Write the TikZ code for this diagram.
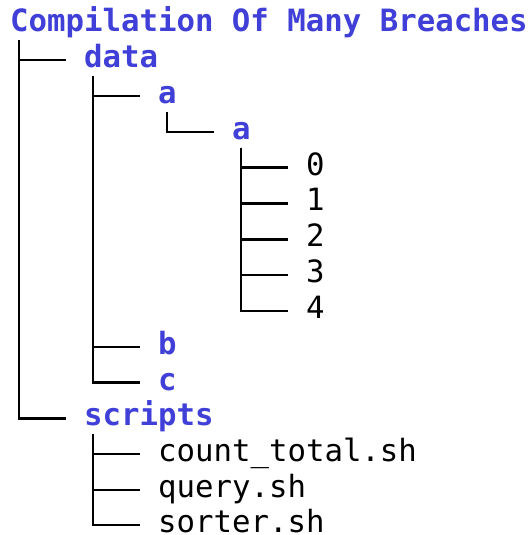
\documentclass[tikz,border=0pt]{standalone}
\usepackage{fontspec}
\setmonofont{DejaVu Sans Mono}
\usetikzlibrary{calc}
\definecolor{dirblue}{RGB}{64,64,216}
\tikzset{
  entry/.style={anchor=west, inner sep=0pt, text height=22pt, text depth=7pt},
  dir/.style={entry, text=dirblue, font=\ttfamily\bfseries\fontsize{30.7}{36}\selectfont},
  file/.style={entry, text=black, font=\ttfamily\fontsize{30.7}{36}\selectfont},
  branch/.style={draw=black, line width=2.4pt},
}
% trunk drawn from a parent entry down to a child entry
\newcommand{\treebranch}[2]{%
  \draw[branch] ($(#1.west)+(9.25,16)$) |- ([xshift=-18.5pt]#2.west);}
\begin{document}
\begin{tikzpicture}[x=1pt, y=-1pt]
\useasboundingbox (0,0) rectangle (532,535);

% columns: 10 + 18.5*c ; rows: 60 + 35.85*(r-1)
\node[dir]  (root)    at (10,  24.2)  {Compilation Of Many Breaches};
\node[dir]  (data)    at (84,  60.0)  {data};
\node[dir]  (da)      at (158, 95.9)  {a};
\node[dir]  (daa)     at (232, 131.7) {a};
\node[file] (f0)      at (306, 167.6) {0};
\node[file] (f1)      at (306, 203.4) {1};
\node[file] (f2)      at (306, 239.3) {2};
\node[file] (f3)      at (306, 275.1) {3};
\node[file] (f4)      at (306, 311.0) {4};
\node[dir]  (db)      at (158, 346.8) {b};
\node[dir]  (dc)      at (158, 382.5) {c};
\node[dir]  (scripts) at (84,  418.4) {scripts};
\node[file] (count)   at (158, 454.2) {count\_total.sh};
\node[file] (query)   at (158, 490.1) {query.sh};
\node[file] (sorter)  at (158, 525.0) {sorter.sh};

\treebranch{root}{data}
\treebranch{root}{scripts}
\treebranch{data}{da}
\treebranch{data}{db}
\treebranch{data}{dc}
\treebranch{da}{daa}
\treebranch{daa}{f0}
\treebranch{daa}{f1}
\treebranch{daa}{f2}
\treebranch{daa}{f3}
\treebranch{daa}{f4}
\treebranch{scripts}{count}
\treebranch{scripts}{query}
\treebranch{scripts}{sorter}
\end{tikzpicture}
\end{document}
